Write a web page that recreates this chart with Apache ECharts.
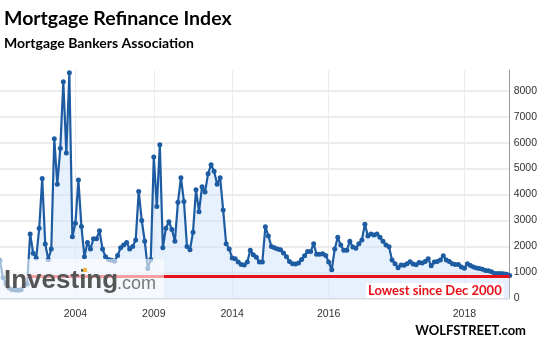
<!DOCTYPE html>
<html><head><meta charset="utf-8">
<script src="https://cdn.jsdelivr.net/npm/echarts@6/dist/echarts.min.js"></script>
<style>html,body{margin:0;padding:0;background:#fff}#c{width:540px;height:347px}</style>
</head><body><div id="c"></div>
<script>
// Mortgage Refinance Index (MBA), sampled evenly along the chart
const refiValues = [
1450,800,550,400,330,320,310,330,500,550,
2480,1740,1550,2700,4620,2090,1500,1900,6150,4400,
5780,8350,5600,8690,2370,2890,4560,2770,1600,2150,
1900,2300,2300,2600,1900,1600,1500,1470,1430,1650,
1950,2050,2150,1900,2000,2250,4120,3000,2200,1150,
1500,5450,3540,5920,1950,2700,2950,2650,2200,3700,
4650,3730,2000,1870,2550,4180,3340,4300,4100,4800,
5150,4900,4400,4650,3400,2100,1900,1550,1520,1400,
1300,1280,1400,1850,1680,1580,1400,1400,2760,2400,
2000,1950,1900,1870,1750,1600,1420,1330,1320,1360,
1500,1640,1800,1800,2100,1700,1700,1720,1650,1400,
1100,1900,2350,2050,1850,1850,2200,1980,1930,2100,
2250,2850,2400,2480,2440,2480,2350,2200,2050,1990,
1480,1330,1180,1280,1270,1330,1410,1320,1290,1380,
1360,1420,1520,1250,1400,1420,1480,1640,1480,1420,
1330,1300,1300,1210,1160,1330,1260,1210,1170,1150,
1120,1070,1060,1020,960,960,960,950,930,880
];
const categories = refiValues.map((_, i) => String(i));
const yearLabels = ['2004', '2009', '2014', '2016', '2018'];
const yearLabelIdx = [25, 51, 77, 109, 154];
const yTicks = [0, 1000, 2000, 3000, 4000, 5000, 6000, 7000, 8000];
const lowestLevel = 860;
const lowestStartIdx = 9;

const chart = echarts.init(document.getElementById('c'));
const isYearIdx = (idx) => yearLabelIdx.indexOf(idx) >= 0;

chart.setOption({
  animation: false,
  backgroundColor: '#fff',
  grid: { left: 0, top: 70, width: 510, height: 228.3, containLabel: false },
  xAxis: {
    type: 'category',
    data: categories,
    boundaryGap: false,
    axisLine: { show: true, lineStyle: { color: '#d8dde6', width: 1 } },
    axisTick: { show: false },
    axisLabel: {
      interval: (idx) => isYearIdx(idx),
      formatter: (v, idx) => { const k = yearLabelIdx.indexOf(Number(v)); return k >= 0 ? yearLabels[k] : ''; },
      color: '#333', fontSize: 10.5, fontFamily: 'Liberation Sans', margin: 10
    },
    splitLine: { show: true, interval: (idx) => isYearIdx(idx), lineStyle: { color: '#ececec', width: 1 } }
  },
  yAxis: {
    type: 'value',
    position: 'right',
    min: 0, max: 8800, interval: 1000,
    axisLine: { show: true, lineStyle: { color: '#9a9a9a', width: 1 } },
    axisTick: { show: false },
    axisLabel: {
      showMaxLabel: false,
      formatter: (v) => (yTicks.indexOf(v) >= 0 ? String(v) : ''),
      color: '#333', fontSize: 10.5, fontFamily: 'Liberation Sans', margin: 4
    },
    splitLine: { show: true, showMaxLine: false, lineStyle: { color: '#e6e6e6', width: 1.5 } }
  },
  series: [{
    type: 'line',
    data: refiValues,
    symbol: 'circle',
    symbolSize: 5,
    showSymbol: true,
    showAllSymbol: true,
    lineStyle: { color: '#1d5ca2', width: 2.2 },
    itemStyle: { color: '#1d5ca2' },
    areaStyle: { color: 'rgba(205,227,250,0.7)' },
    z: 3,
    markLine: {
      silent: true,
      symbol: ['none', 'none'],
      label: { show: false },
      lineStyle: { color: '#e8101a', width: 3, type: 'solid' },
      data: [[
        { coord: [categories[lowestStartIdx], lowestLevel] },
        { coord: [categories[categories.length - 1], lowestLevel] }
      ]]
    }
  }],
  graphic: [
    { type: 'text', left: 4, top: 9, z: 10,
      style: { text: 'Mortgage Refinance Index', font: 'bold 19.5px Lato', fill: '#000' } },
    { type: 'text', left: 4, top: 36, z: 10,
      style: { text: 'Mortgage Bankers Association', font: 'bold 14px Lato', fill: '#000' } },
    { type: 'rect', z: 20, shape: { x: 0, y: 259, width: 164, height: 39 },
      style: { fill: 'rgba(255,255,255,0.6)' } },
    { type: 'text', z: 21, x: 4, y: 281,
      style: { text: 'Investing', font: 'bold 26px Liberation Sans', fill: '#555', verticalAlign: 'middle' } },
    { type: 'text', z: 21, x: 117, y: 284,
      style: { text: '.com', font: '18px Liberation Sans', fill: '#777', verticalAlign: 'middle' } },
    { type: 'rect', z: 22, shape: { x: 83, y: 268, width: 4, height: 4 }, style: { fill: '#f3b844' } },
    { type: 'text', z: 21, x: 366, y: 283,
      style: { text: 'Lowest since Dec 2000', font: 'bold 13px Lato', fill: '#e8101a',
               backgroundColor: '#fff', padding: [1, 2, 1, 2] } },
    { type: 'text', z: 21, right: 14, top: 324,
      style: { text: 'WOLFSTREET.com', font: 'bold 13px Lato', fill: '#000' } }
  ]
});
</script>
</body></html>
